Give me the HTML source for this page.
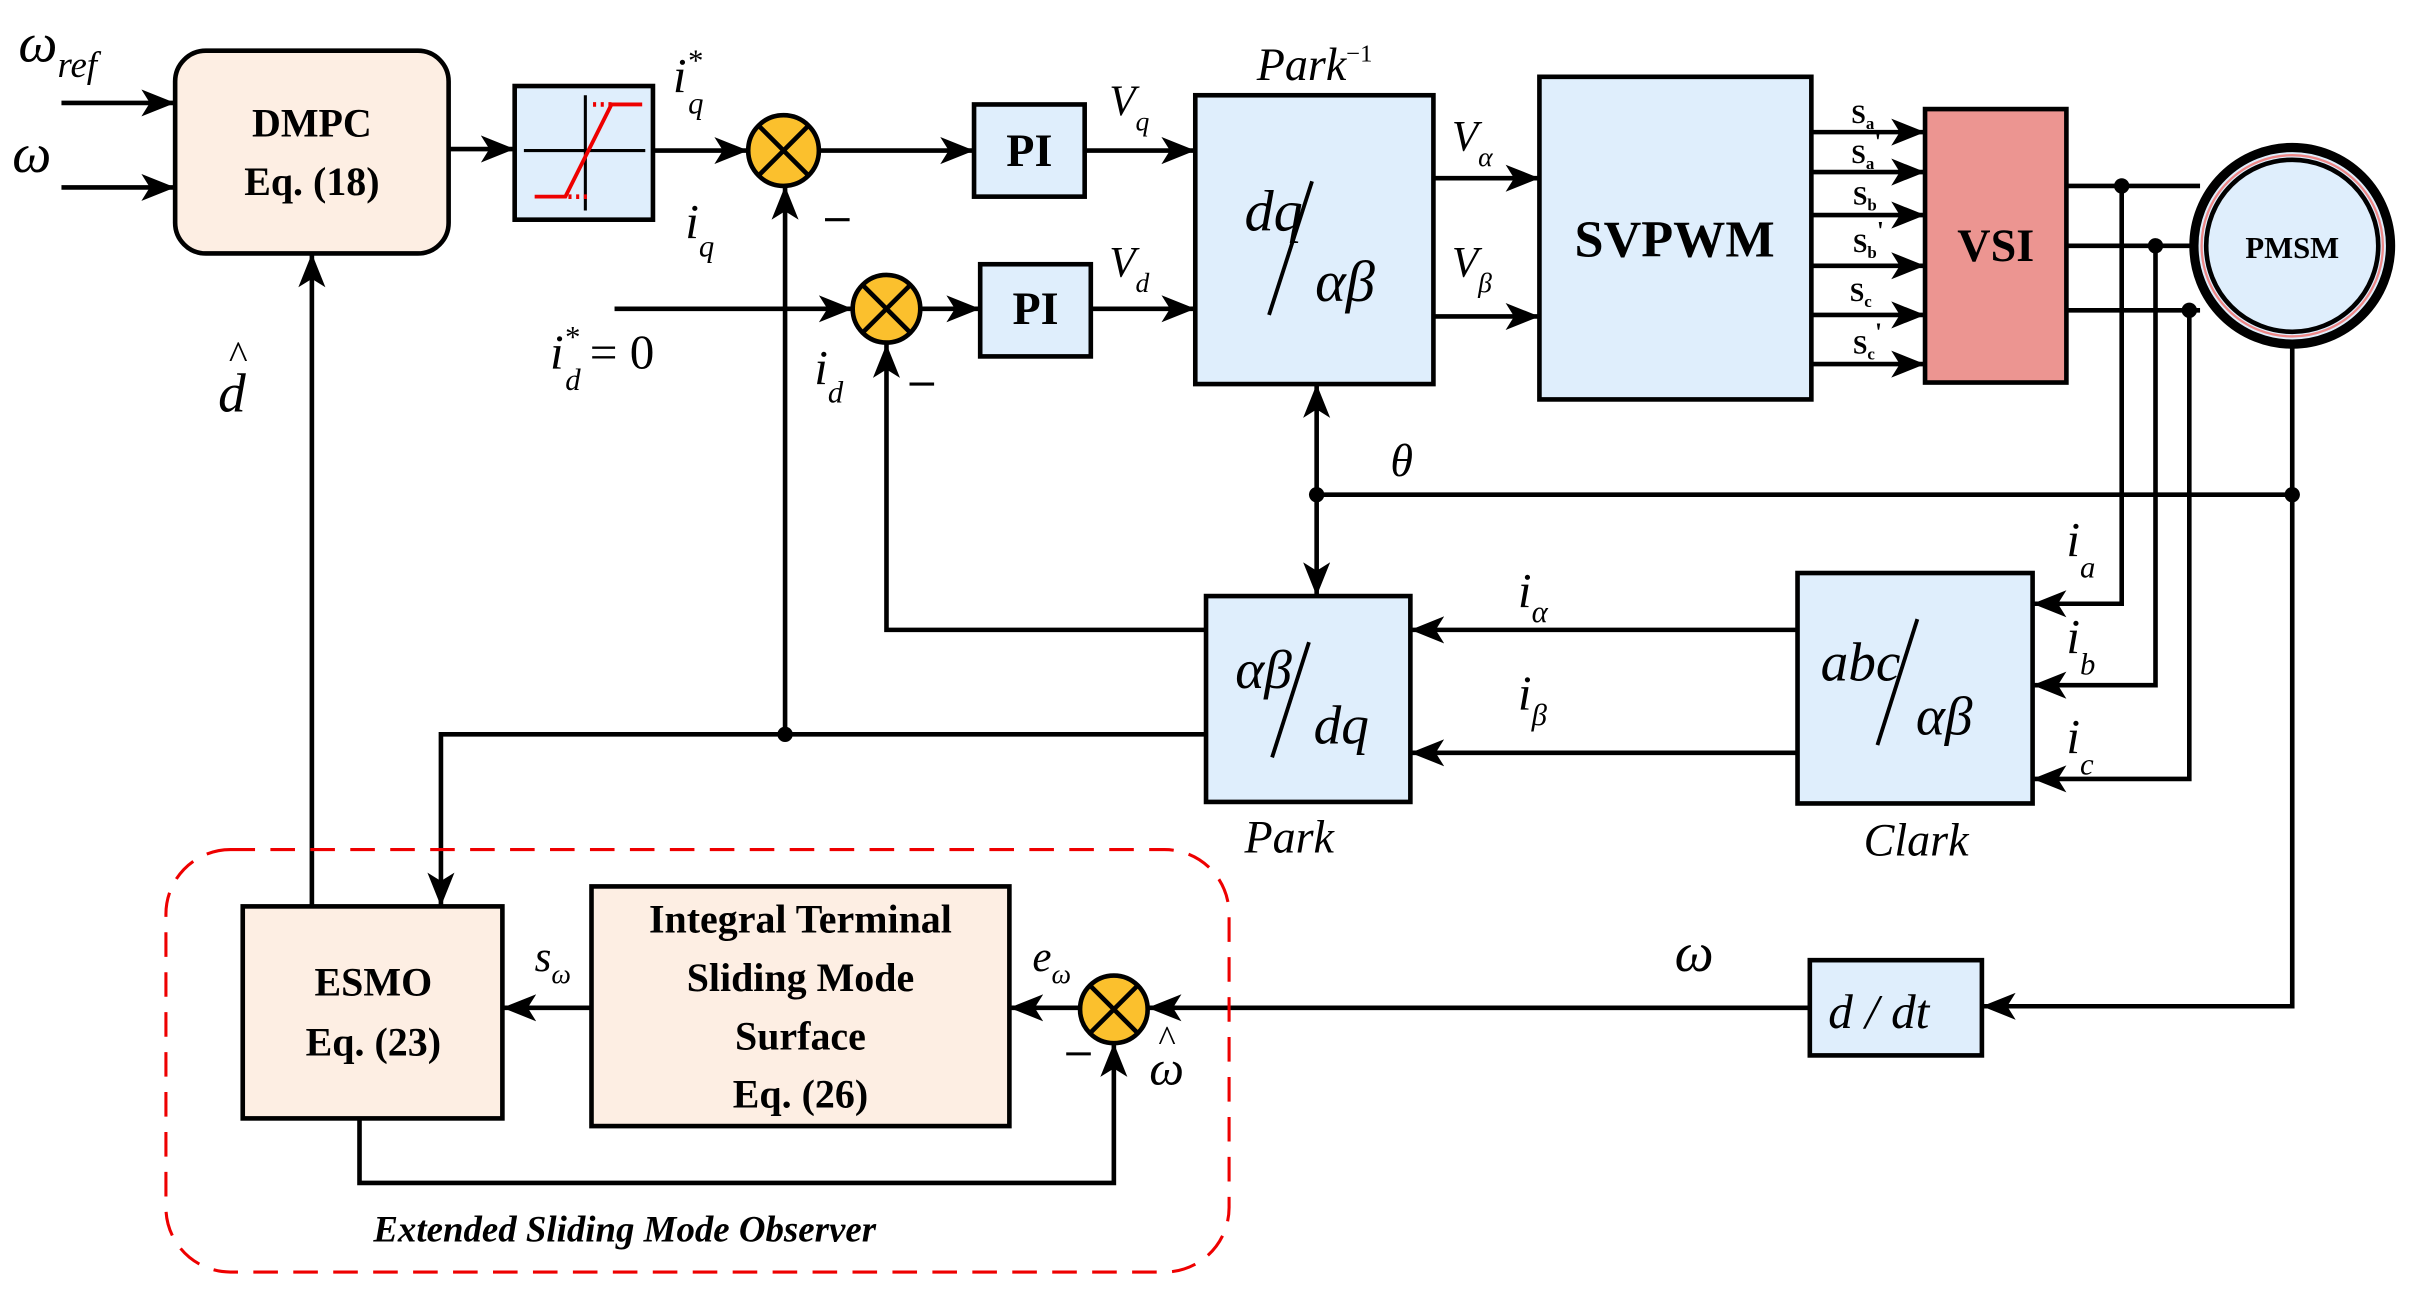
<!DOCTYPE html>
<html><head><meta charset="utf-8"><style>html,body{margin:0;padding:0;background:#fff}svg{display:block}
text{font-family:"Liberation Serif",serif;fill:#000}
.b{font-weight:bold}.i{font-style:italic}</style></head><body>
<svg width="2409" height="1292" viewBox="0 0 1568 841" preserveAspectRatio="none" xmlns="http://www.w3.org/2000/svg">
<defs>
<marker id="A" viewBox="0 0 10 10" refX="10" refY="5" markerWidth="22" markerHeight="22" orient="auto-start-reverse" markerUnits="userSpaceOnUse"><path d="M0,1 L10,5 L0,9 L2.5,5z" fill="#000"/></marker></defs>
<g stroke="#000" stroke-width="3" fill="none">
<rect x="114" y="33" width="178" height="132" rx="20" fill="#fdeee3"/>
<rect x="335" y="56" width="90" height="87" fill="#dfeefc"/>
<rect x="634" y="68" width="72" height="60" fill="#dfeefc"/>
<rect x="638" y="172" width="72" height="60" fill="#dfeefc"/>
<rect x="778" y="62" width="155" height="188" fill="#dfeefc"/>
<rect x="1002" y="50" width="177" height="210" fill="#dfeefc"/>
<rect x="1253" y="71" width="92" height="178" fill="#ec9591"/>
<rect x="785" y="388" width="133" height="134" fill="#dfeefc"/>
<rect x="1170" y="373" width="153" height="150" fill="#dfeefc"/>
<rect x="158" y="590" width="169" height="138" fill="#fdeee3"/>
<rect x="385" y="577" width="272" height="156" fill="#fdeee3"/>
<rect x="1178" y="625" width="112" height="62" fill="#dfeefc"/>
<circle cx="1492" cy="160" r="64" fill="#dfeefc" stroke-width="6"/>
<circle cx="1492" cy="160" r="59" stroke="#e88" stroke-width="1.5"/>
<circle cx="1492" cy="160" r="56" stroke-width="3"/>
<line x1="341" y1="98" x2="420" y2="98" stroke-width="2"/><line x1="381" y1="62" x2="381" y2="137" stroke-width="2"/>
<polyline points="348,128 368,128 398,68 418,68" stroke="#e00" stroke-width="2.5"/>
<line x1="370" y1="128" x2="382" y2="128" stroke="#e00" stroke-dasharray="2,3"/>
<line x1="386" y1="68" x2="398" y2="68" stroke="#e00" stroke-dasharray="2,3"/>
<line x1="40" y1="67" x2="114" y2="67" marker-end="url(#A)"/>
<line x1="40" y1="122" x2="114" y2="122" marker-end="url(#A)"/>
<line x1="292" y1="97" x2="335" y2="97" marker-end="url(#A)"/>
<line x1="425" y1="98" x2="487" y2="98" marker-end="url(#A)"/>
<line x1="533" y1="98" x2="634" y2="98" marker-end="url(#A)"/>
<line x1="706" y1="98" x2="778" y2="98" marker-end="url(#A)"/>
<line x1="400" y1="201" x2="555" y2="201" marker-end="url(#A)"/>
<line x1="599" y1="201" x2="638" y2="201" marker-end="url(#A)"/>
<line x1="710" y1="201" x2="778" y2="201" marker-end="url(#A)"/>
<line x1="933" y1="116" x2="1002" y2="116" marker-end="url(#A)"/>
<line x1="933" y1="206" x2="1002" y2="206" marker-end="url(#A)"/>
<line x1="1179" y1="86" x2="1253" y2="86" marker-end="url(#A)"/>
<line x1="1179" y1="112" x2="1253" y2="112" marker-end="url(#A)"/>
<line x1="1179" y1="140" x2="1253" y2="140" marker-end="url(#A)"/>
<line x1="1179" y1="173" x2="1253" y2="173" marker-end="url(#A)"/>
<line x1="1179" y1="205" x2="1253" y2="205" marker-end="url(#A)"/>
<line x1="1179" y1="237" x2="1253" y2="237" marker-end="url(#A)"/>
<line x1="1345" y1="121" x2="1432" y2="121"/>
<line x1="1345" y1="160" x2="1428" y2="160"/>
<line x1="1345" y1="202" x2="1432" y2="202"/>
<polyline points="1381,121 1381,393 1323,393" marker-end="url(#A)"/>
<polyline points="1403,160 1403,446 1323,446" marker-end="url(#A)"/>
<polyline points="1425,202 1425,507 1323,507" marker-end="url(#A)"/>
<polyline points="1492,224 1492,655 1290,655" marker-end="url(#A)"/>
<line x1="857" y1="322" x2="1492" y2="322"/>
<line x1="857" y1="250" x2="857" y2="388" marker-start="url(#A)" marker-end="url(#A)"/>
<line x1="1170" y1="410" x2="918" y2="410" marker-end="url(#A)"/>
<line x1="1170" y1="490" x2="918" y2="490" marker-end="url(#A)"/>
<polyline points="785,410 577,410 577,224" marker-end="url(#A)"/>
<polyline points="785,478 287,478 287,590" marker-end="url(#A)"/>
<line x1="511" y1="478" x2="511" y2="121" marker-end="url(#A)"/>
<line x1="203" y1="590" x2="203" y2="165" marker-end="url(#A)"/>
<line x1="1178" y1="656" x2="747" y2="656" marker-end="url(#A)"/>
<line x1="703" y1="656" x2="657" y2="656" marker-end="url(#A)"/>
<line x1="385" y1="656" x2="327" y2="656" marker-end="url(#A)"/>
<polyline points="234,728 234,770 725,770 725,679" marker-end="url(#A)"/>
<g fill="#fbc02d"><circle cx="510" cy="98" r="23"/><circle cx="577" cy="201" r="22"/><circle cx="725" cy="657" r="22"/></g>
<path d="M494,82 L526,114 M526,82 L494,114 M561,185 L593,217 M593,185 L561,217 M709,641 L741,673 M741,641 L709,673"/>
<rect x="108" y="553" width="692" height="275" rx="42" stroke="#e00" stroke-width="2" stroke-dasharray="16,10"/>
<line x1="826" y1="205" x2="854" y2="118" stroke-width="2.5"/>
<line x1="828" y1="493" x2="852" y2="418" stroke-width="2.5"/>
<line x1="1222" y1="485" x2="1248" y2="403" stroke-width="2.5"/>
<line x1="537" y1="143" x2="553" y2="143" stroke-width="2"/>
<line x1="592" y1="250" x2="608" y2="250" stroke-width="2"/>
<line x1="694" y1="686" x2="710" y2="686" stroke-width="2"/>
</g>
<g fill="#000"><circle cx="1381" cy="121" r="5"/><circle cx="1403" cy="160" r="5"/><circle cx="1425" cy="202" r="5"/><circle cx="1492" cy="322" r="5"/><circle cx="857" cy="322" r="5"/><circle cx="511" cy="478" r="5"/></g>
<g class="b" text-anchor="middle">
<text x="203" y="89" font-size="26">DMPC</text><text x="203" y="127" font-size="26">Eq. (18)</text>
<text x="670" y="108" font-size="30">PI</text><text x="674" y="211" font-size="30">PI</text>
<text x="1090" y="167" font-size="34">SVPWM</text>
<text x="1299" y="170" font-size="30">VSI</text>
<text x="1492" y="168" font-size="20">PMSM</text>
<text x="243" y="648" font-size="26">ESMO</text><text x="243" y="687" font-size="26">Eq. (23)</text>
<text x="521" y="607" font-size="26">Integral Terminal</text><text x="521" y="645" font-size="26">Sliding Mode</text><text x="521" y="683" font-size="26">Surface</text><text x="521" y="721" font-size="26">Eq. (26)</text>
</g>
<g class="b" font-size="17"><text x="1205" y="80">S<tspan font-size="11" dy="4">a</tspan></text><text x="1205" y="106">S<tspan font-size="11" dy="4">a</tspan><tspan dy="-12">'</tspan></text><text x="1206" y="133">S<tspan font-size="11" dy="4">b</tspan></text><text x="1206" y="164">S<tspan font-size="11" dy="4">b</tspan><tspan dy="-12">'</tspan></text><text x="1204" y="196">S<tspan font-size="11" dy="4">c</tspan></text><text x="1206" y="230">S<tspan font-size="11" dy="4">c</tspan><tspan dy="-12">'</tspan></text></g>
<g class="i">
<text x="12" y="40" font-size="36">ω<tspan font-size="24" dy="10">ref</tspan></text>
<text x="8" y="112" font-size="36">ω</text>
<text x="438" y="60" font-size="32">i<tspan font-size="20" dy="-14">*</tspan><tspan font-size="20" dx="-9" dy="28">q</tspan></text>
<text x="446" y="155" font-size="32">i<tspan font-size="20" dy="12">q</tspan></text>
<text x="358" y="240" font-size="32">i<tspan font-size="20" dy="-14">*</tspan><tspan font-size="20" dx="-9" dy="28">d</tspan><tspan font-style="normal" dy="-14" dx="6">= 0</tspan></text>
<text x="530" y="250" font-size="32">i<tspan font-size="20" dy="12">d</tspan></text>
<text x="722" y="75" font-size="28">V<tspan font-size="18" dy="10">q</tspan></text>
<text x="722" y="180" font-size="28">V<tspan font-size="18" dy="10">d</tspan></text>
<text x="945" y="98" font-size="28">V<tspan font-size="18" dy="10">α</tspan></text>
<text x="945" y="180" font-size="28">V<tspan font-size="18" dy="10">β</tspan></text>
<text x="818" y="52" font-size="30">Park<tspan font-size="16" font-style="normal" dy="-12">−1</tspan></text>
<text x="810" y="150" font-size="38">dq</text><text x="856" y="196" font-size="38">αβ</text>
<text x="804" y="448" font-size="36">αβ</text><text x="855" y="484" font-size="36">dq</text>
<text x="1185" y="443" font-size="36">abc</text><text x="1247" y="478" font-size="36">αβ</text>
<text x="905" y="310" font-size="30">θ</text>
<text x="988" y="395" font-size="32">i<tspan font-size="20" dy="10">α</tspan></text>
<text x="988" y="462" font-size="32">i<tspan font-size="20" dy="10">β</tspan></text>
<text x="1345" y="362" font-size="32">i<tspan font-size="20" dy="14">a</tspan></text>
<text x="1345" y="425" font-size="32">i<tspan font-size="20" dy="14">b</tspan></text>
<text x="1345" y="490" font-size="32">i<tspan font-size="20" dy="14">c</tspan></text>
<text x="810" y="555" font-size="30">Park</text>
<text x="1213" y="557" font-size="30">Clark</text>
<text x="142" y="268" font-size="36">d</text><text x="149" y="240" font-size="26" font-style="normal">^</text>
<text x="1090" y="632" font-size="36">ω</text>
<text x="672" y="632" font-size="28">e<tspan font-size="18" dy="8">ω</tspan></text>
<text x="348" y="632" font-size="28">s<tspan font-size="18" dy="8">ω</tspan></text>
<text x="748" y="706" font-size="32">ω</text><text x="754" y="684" font-size="24" font-style="normal">^</text>
<text x="1190" y="669" font-size="32">d / dt</text>
<text x="243" y="808" font-size="24" class="b">Extended Sliding Mode  Observer</text>
</g>
</svg>
</body></html>
